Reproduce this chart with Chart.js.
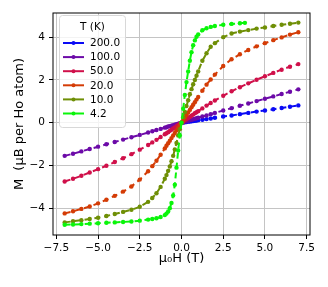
<!DOCTYPE html>
<html>
<head>
<meta charset="utf-8">
<script src="https://cdn.jsdelivr.net/npm/chart.js@4.4.0/dist/chart.umd.min.js"></script>
<style>
  html, body { margin: 0; padding: 0; background: #fff; }
  canvas { display: block; }
</style>
</head>
<body>
<canvas id="chart" width="328" height="287"></canvas>
<script>
// field values (T)
const fieldUp = [0, 0.1, 0.2, 0.3, 0.4, 0.5, 0.6, 0.7, 0.8, 0.9, 1, 1.25, 1.5, 1.75, 2, 2.5, 3, 3.5, 4, 4.5, 5, 5.5, 6, 6.5, 7];
const fieldFull = [-7, -6.5, -6, -5.5, -5, -4.5, -4, -3.5, -3, -2.5, -2, -1.75, -1.5, -1.25, -1, -0.9, -0.8, -0.7, -0.6, -0.5, -0.4, -0.3, -0.2, -0.1,
  0, 0.1, 0.2, 0.3, 0.4, 0.5, 0.6, 0.7, 0.8, 0.9, 1, 1.25, 1.5, 1.75, 2, 2.5, 3, 3.5, 4, 4.5, 5, 5.5, 6, 6.5, 7];
const field42 = [-7, -6.5, -6, -5.5, -5, -4.5, -4, -3.5, -3, -2.5, -2, -1.75, -1.5, -1.25, -1, -0.9, -0.8, -0.7, -0.6, -0.5, -0.4, -0.3, -0.2, -0.1,
  0, 0.1, 0.2, 0.3, 0.4, 0.5, 0.6, 0.7, 0.8, 0.9, 1, 1.25, 1.5, 1.75, 2, 2.5, 3, 3.5, 3.8];

// magnetisation (muB per Ho atom)
const m200 = [0, 0.01, 0.02, 0.03, 0.05, 0.06, 0.07, 0.08, 0.09, 0.1, 0.12, 0.14, 0.17, 0.2, 0.23, 0.29, 0.34, 0.4, 0.46, 0.52, 0.57, 0.63, 0.69, 0.75, 0.81];
const m100 = [-1.55, -1.45, -1.34, -1.23, -1.12, -1.01, -0.9, -0.79, -0.68, -0.57, -0.46, -0.4, -0.34, -0.29, -0.23, -0.21, -0.18, -0.16, -0.14, -0.12, -0.09, -0.07, -0.05, -0.02,
  0, 0.02, 0.05, 0.07, 0.09, 0.12, 0.14, 0.16, 0.18, 0.21, 0.23, 0.29, 0.34, 0.4, 0.46, 0.57, 0.68, 0.79, 0.9, 1.01, 1.12, 1.23, 1.34, 1.45, 1.56];
const m50 = [-2.75, -2.62, -2.48, -2.33, -2.17, -2.01, -1.84, -1.66, -1.47, -1.26, -1.04, -0.92, -0.8, -0.67, -0.54, -0.49, -0.44, -0.38, -0.33, -0.27, -0.22, -0.16, -0.11, -0.05,
  0, 0.05, 0.11, 0.16, 0.22, 0.27, 0.33, 0.38, 0.44, 0.49, 0.54, 0.67, 0.8, 0.92, 1.04, 1.26, 1.47, 1.66, 1.84, 2.01, 2.17, 2.33, 2.48, 2.62, 2.74];
const m20 = [-4.24, -4.14, -4.03, -3.92, -3.77, -3.6, -3.42, -3.22, -2.98, -2.66, -2.27, -2.03, -1.78, -1.5, -1.2, -1.08, -0.96, -0.84, -0.72, -0.6, -0.48, -0.36, -0.24, -0.12,
  0, 0.12, 0.24, 0.36, 0.48, 0.6, 0.72, 0.84, 0.96, 1.08, 1.2, 1.5, 1.78, 2.02, 2.25, 2.65, 2.97, 3.2, 3.4, 3.57, 3.72, 3.86, 3.99, 4.12, 4.23];
const m10 = [-4.66, -4.61, -4.56, -4.5, -4.44, -4.36, -4.27, -4.17, -4.07, -3.93, -3.7, -3.52, -3.3, -3.0, -2.62, -2.45, -2.25, -2.05, -1.8, -1.55, -1.25, -0.95, -0.6, -0.3,
  0, 0.25, 0.5, 0.78, 1.05, 1.33, 1.57, 1.8, 2.0, 2.2, 2.4, 2.9, 3.25, 3.55, 3.72, 4.0, 4.17, 4.26, 4.33, 4.4, 4.45, 4.52, 4.58, 4.63, 4.68];
const m42 = [-4.77, -4.76, -4.74, -4.72, -4.7, -4.68, -4.66, -4.64, -4.62, -4.58, -4.53, -4.5, -4.47, -4.41, -4.32, -4.25, -4.15, -4.0, -3.75, -3.4, -2.9, -2.1, -1.3, -0.6,
  0, 0.65, 1.3, 1.9, 2.4, 2.9, 3.3, 3.62, 3.85, 4.02, 4.13, 4.32, 4.42, 4.48, 4.52, 4.58, 4.62, 4.65, 4.67];

const temps = ["200.0", "100.0", "50.0", "20.0", "10.0", "4.2"];
const colors = ["#0a0af5", "#6c0aa8", "#d0104a", "#d43c06", "#6f8f06", "#0af50a"];
const xTicks = [-7.5, -5, -2.5, 0, 2.5, 5, 7.5];
const yTicks = [-4, -2, 0, 2, 4];

const series = [[fieldUp, m200], [fieldFull, m100], [fieldFull, m50], [fieldFull, m20], [fieldFull, m10], [field42, m42]];

const minus = s => s.replace("-", "\u2212");
const FONT = "DejaVu Sans";

const framePlugin = {
  id: "frame",
  afterDatasetsDraw(chart) {
    const { ctx, chartArea: a } = chart;
    ctx.save();
    ctx.strokeStyle = "#000";
    ctx.lineWidth = 1;
    ctx.strokeRect(a.left, a.top, a.right - a.left, a.bottom - a.top);
    ctx.restore();
  }
};

const legendPlugin = {
  id: "boxLegend",
  afterDraw(chart) {
    const ctx = chart.ctx;
    const x0 = 59.5, y0 = 15.5, w = 66, h = 112;
    ctx.save();
    ctx.beginPath();
    ctx.roundRect(x0, y0, w, h, 3);
    ctx.fillStyle = "rgba(255,255,255,0.8)";
    ctx.fill();
    ctx.strokeStyle = "#d8d8d8";
    ctx.lineWidth = 1;
    ctx.stroke();
    ctx.fillStyle = "#000";
    ctx.font = "10.5px '" + FONT + "'";
    ctx.textBaseline = "middle";
    ctx.textAlign = "center";
    ctx.fillText("T (K)", x0 + w / 2, 27.5);
    ctx.textAlign = "left";
    temps.forEach((t, i) => {
      const y = 43 + i * 14.1;
      ctx.strokeStyle = colors[i];
      ctx.lineWidth = 2;
      ctx.beginPath();
      ctx.moveTo(63, y);
      ctx.lineTo(84, y);
      ctx.stroke();
      ctx.fillStyle = colors[i];
      ctx.beginPath();
      ctx.arc(73.5, y, 2, 0, Math.PI * 2);
      ctx.fill();
      ctx.fillStyle = "#000";
      ctx.fillText(t, 90, y + 0.5);
    });
    ctx.restore();
  }
};

new Chart(document.getElementById("chart"), {
  type: "scatter",
  data: {
    datasets: series.map(([f, m], i) => ({
      label: temps[i],
      data: f.map((x, j) => ({ x: x, y: m[j] })),
      showLine: true,
      borderColor: colors[i],
      backgroundColor: colors[i],
      borderWidth: 2,
      borderDash: [6, 4],
      pointRadius: 2.2,
      pointBorderWidth: 0,
      pointHoverRadius: 2.2,
      order: series.length - i
    }))
  },
  options: {
    responsive: false,
    animation: false,
    devicePixelRatio: 1,
    layout: { padding: { left: 0, right: 18, top: 13, bottom: 0 } },
    plugins: { legend: { display: false }, tooltip: { enabled: false } },
    scales: {
      x: {
        type: "linear",
        min: -7.7,
        max: 7.7,
        afterFit: s => { s.height = 52; },
        afterBuildTicks: s => { s.ticks = xTicks.map(v => ({ value: v })); },
        ticks: {
          color: "#000",
          font: { family: FONT, size: 10.5 },
          padding: 3,
          maxRotation: 0,
          callback: v => minus(v.toFixed(1))
        },
        grid: { color: "#c4c4c4", lineWidth: 1, tickLength: 4, tickColor: "#000" },
        border: { display: false },
        title: {
          display: true,
          text: "\u03bc\u2080H (T)",
          color: "#000",
          font: { family: FONT, size: 13 },
          padding: { top: 21, bottom: 21 }
        }
      },
      y: {
        type: "linear",
        min: -5.25,
        max: 5.13,
        afterFit: s => { s.width = 53; },
        afterBuildTicks: s => { s.ticks = yTicks.map(v => ({ value: v })); },
        ticks: {
          color: "#000",
          font: { family: FONT, size: 10.5 },
          padding: 4,
          callback: v => minus(String(v))
        },
        grid: { color: "#c4c4c4", lineWidth: 1, tickLength: 4, tickColor: "#000" },
        border: { display: false },
        title: {
          display: true,
          text: "M  (\u03bcB per Ho atom)",
          color: "#000",
          font: { family: FONT, size: 13 },
          padding: { top: 12, bottom: 12 }
        }
      }
    }
  },
  plugins: [framePlugin, legendPlugin]
});
</script>
</body>
</html>
